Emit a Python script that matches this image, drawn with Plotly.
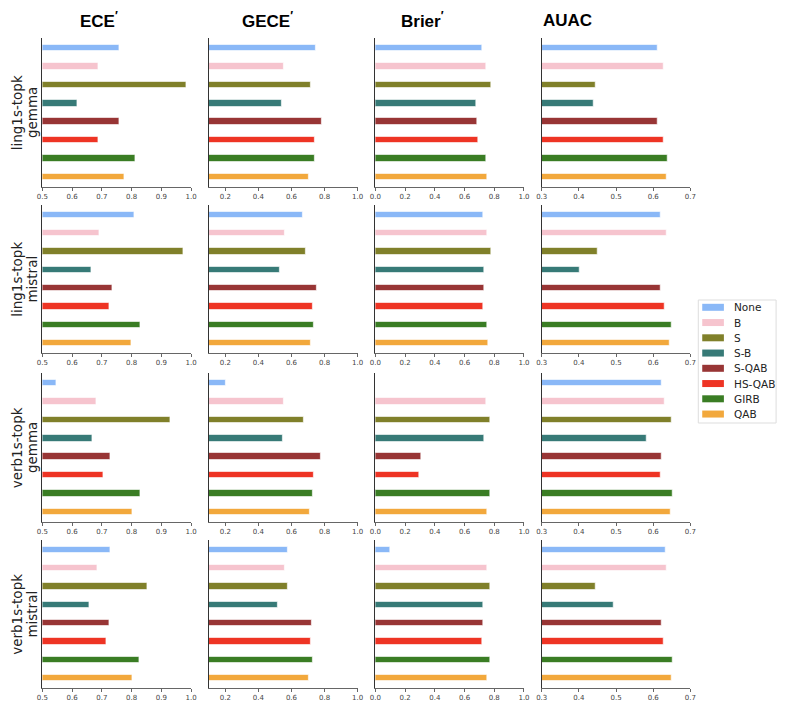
import plotly.graph_objects as go
from plotly.subplots import make_subplots

# ---------------- data ----------------
methods = ["None", "B", "S", "S-B", "S-QAB", "HS-QAB", "GIRB", "QAB"]
colors = ["#8ab8f7", "#f6c4ce", "#80802a", "#377a77", "#983535", "#ee3424", "#3a7d24", "#f2a83c"]
metric_titles = ["ECE<sup>′</sup>", "GECE<sup>′</sup>", "Brier<sup>′</sup>", "AUAC"]
row_label_lines = [["ling1s-topk", "gemma"], ["ling1s-topk", "mistral"],
                   ["verb1s-topk", "gemma"], ["verb1s-topk", "mistral"]]

# ling1s-topk gemma
ece_ling_gemma = [0.759, 0.687, 0.985, 0.618, 0.759, 0.688, 0.812, 0.776]
gece_ling_gemma = [0.746, 0.556, 0.720, 0.542, 0.786, 0.740, 0.740, 0.704]
brier_ling_gemma = [0.718, 0.749, 0.778, 0.681, 0.685, 0.692, 0.749, 0.754]
auac_ling_gemma = [0.611, 0.628, 0.446, 0.440, 0.613, 0.628, 0.638, 0.636]
# ling1s-topk mistral
ece_ling_mistral = [0.810, 0.690, 0.975, 0.664, 0.737, 0.724, 0.829, 0.800]
gece_ling_mistral = [0.668, 0.560, 0.690, 0.530, 0.756, 0.728, 0.736, 0.716]
brier_ling_mistral = [0.723, 0.752, 0.778, 0.732, 0.732, 0.725, 0.754, 0.758]
auac_ling_mistral = [0.620, 0.635, 0.450, 0.402, 0.621, 0.630, 0.650, 0.645]
# verb1s-topk gemma
ece_verb_gemma = [0.546, 0.682, 0.930, 0.668, 0.727, 0.704, 0.828, 0.801]
gece_verb_gemma = [0.200, 0.556, 0.676, 0.548, 0.780, 0.738, 0.732, 0.714]
brier_verb_gemma = [0.000, 0.747, 0.772, 0.732, 0.310, 0.295, 0.776, 0.754]
auac_verb_gemma = [0.624, 0.630, 0.650, 0.583, 0.624, 0.621, 0.652, 0.648]
# verb1s-topk mistral
ece_verb_mistral = [0.730, 0.685, 0.853, 0.657, 0.724, 0.715, 0.826, 0.801]
gece_verb_mistral = [0.580, 0.560, 0.578, 0.516, 0.724, 0.716, 0.732, 0.706]
brier_verb_mistral = [0.104, 0.750, 0.774, 0.728, 0.728, 0.720, 0.776, 0.756]
auac_verb_mistral = [0.633, 0.636, 0.446, 0.493, 0.623, 0.629, 0.653, 0.649]

grid_values = [
    [ece_ling_gemma, gece_ling_gemma, brier_ling_gemma, auac_ling_gemma],
    [ece_ling_mistral, gece_ling_mistral, brier_ling_mistral, auac_ling_mistral],
    [ece_verb_gemma, gece_verb_gemma, brier_verb_gemma, auac_verb_gemma],
    [ece_verb_mistral, gece_verb_mistral, brier_verb_mistral, auac_verb_mistral],
]

x_ranges = [[0.5, 1.0], [0.1, 1.0], [0.0, 1.0], [0.3, 0.7]]
x_ticks = [[0.5, 0.6, 0.7, 0.8, 0.9, 1.0], [0.2, 0.4, 0.6, 0.8, 1.0],
           [0.0, 0.2, 0.4, 0.6, 0.8, 1.0], [0.3, 0.4, 0.5, 0.6, 0.7]]

# ---------------- layout geometry ----------------
W, H = 788, 704
col_px = [(37, 188), (206, 357), (375, 526), (544, 695)]
row_px = [(38, 187), (205, 353), (373, 522), (540, 688)]
title_x_px = [73, 238, 399, 543]

fig = make_subplots(rows=4, cols=4)

for r in range(4):
    for c in range(4):
        fig.add_trace(
            go.Bar(
                x=grid_values[r][c], y=methods, orientation="h", width=0.35,
                marker=dict(color=colors, line=dict(color="rgba(255,255,255,0.6)", width=1)),
                showlegend=False, hoverinfo="x+y",
            ),
            row=r + 1, col=c + 1,
        )
        k = r * 4 + c + 1
        xa = "xaxis" if k == 1 else f"xaxis{k}"
        ya = "yaxis" if k == 1 else f"yaxis{k}"
        fig.layout[xa].update(
            domain=[col_px[c][0] / W, col_px[c][1] / W],
            range=x_ranges[c], tickvals=x_ticks[c],
            ticktext=[f"{v:.1f}" for v in x_ticks[c]],
            ticks="outside", ticklen=3, tickwidth=1, tickcolor="#666",
            showline=True, linecolor="#666", linewidth=1,
            showgrid=False, zeroline=False,
            tickfont=dict(family="DejaVu Sans", size=7, color="#444"),
        )
        fig.layout[ya].update(
            domain=[1 - row_px[r][1] / H, 1 - row_px[r][0] / H],
            type="category", categoryorder="array", categoryarray=methods,
            range=[7.5425, -0.5425],
            showticklabels=False, ticks="",
            showline=True, linecolor="#333", linewidth=1,
            showgrid=False, zeroline=False,
        )

annotations = []
for c, t in enumerate(metric_titles):
    annotations.append(dict(
        xref="paper", yref="paper", x=title_x_px[c] / W, y=1 - 20 / H,
        xanchor="left", yanchor="middle", showarrow=False,
        text=f"<b>{t}</b>", font=dict(family="Liberation Sans", size=17, color="black"),
    ))
line_x_px = [11, 26]
for r, lines in enumerate(row_label_lines):
    yc = 1 - ((row_px[r][0] + row_px[r][1]) / 2) / H
    for j, ln in enumerate(lines):
        annotations.append(dict(
            xref="paper", yref="paper", x=line_x_px[j] / W, y=yc,
            xanchor="center", yanchor="middle", showarrow=False, textangle=-90,
            text=ln, font=dict(family="DejaVu Sans", size=13.5, color="#222"),
        ))

# manual legend
shapes = [dict(type="rect", xref="paper", yref="paper",
               x0=703 / W, x1=782 / W, y0=1 - 423 / H, y1=1 - 300 / H,
               line=dict(color="#dddddd", width=1), fillcolor="white")]
leg_y0 = 307.3
leg_dy = 15.25
for i, (m, col) in enumerate(zip(methods, colors)):
    yc = leg_y0 + i * leg_dy
    shapes.append(dict(type="rect", xref="paper", yref="paper",
                       x0=707 / W, x1=729 / W, y0=1 - (yc + 3.5) / H, y1=1 - (yc - 3.5) / H,
                       line=dict(width=0), fillcolor=col))
    annotations.append(dict(
        xref="paper", yref="paper", x=737 / W, y=1 - yc / H,
        xanchor="left", yanchor="middle", showarrow=False,
        text=m, font=dict(family="DejaVu Sans", size=10.5, color="#222"),
    ))

fig.update_layout(
    width=W, height=H, margin=dict(l=0, r=0, t=0, b=0),
    paper_bgcolor="white", plot_bgcolor="white",
    annotations=annotations, shapes=shapes, showlegend=False,
    bargap=0,
)

fig.write_html("out.html")
